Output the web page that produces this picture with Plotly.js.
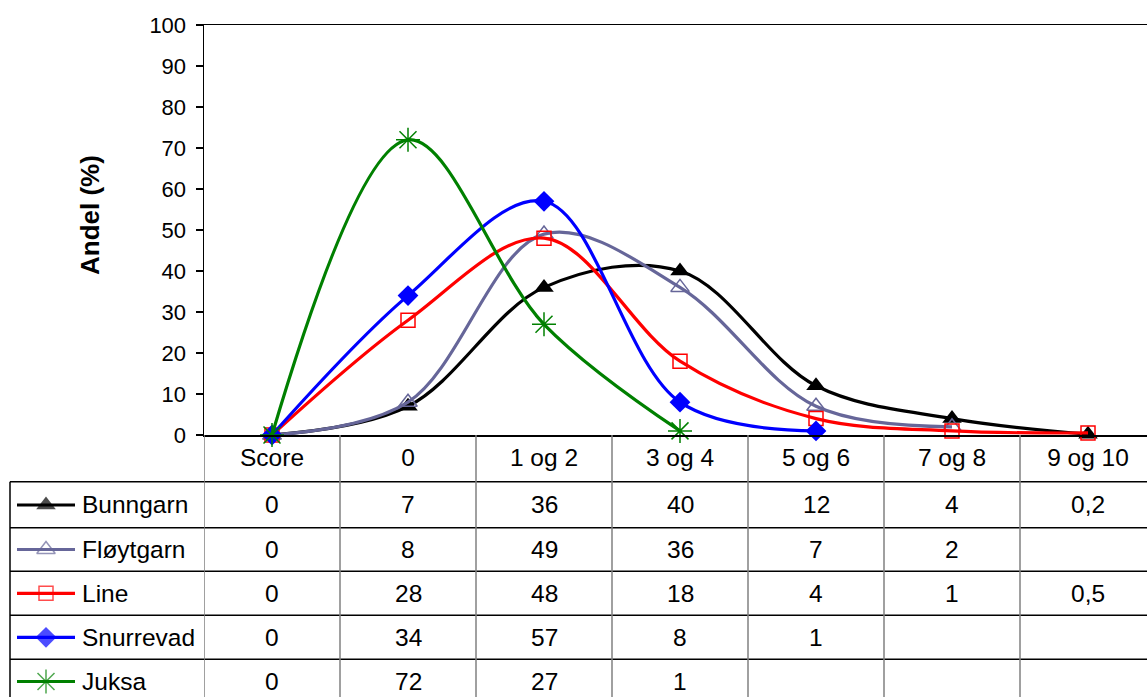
<!DOCTYPE html>
<html>
<head>
<meta charset="utf-8">
<script src="https://cdn.plot.ly/plotly-3.0.1.min.js"></script>
<style>
  html, body { margin: 0; padding: 0; overflow: hidden; background: #fff; }
  #chart { width: 1160px; height: 697px; }
</style>
</head>
<body>
<div id="chart"></div>
<script>
// Score classes (x categories) and share per gear type (%)
const categories = ['Score', '0', '1 og 2', '3 og 4', '5 og 6', '7 og 8', '9 og 10'];
const seriesNames = ['Bunngarn', 'Fløytgarn', 'Line', 'Snurrevad', 'Juksa'];
const bunngarn  = [0, 7, 36, 40, 12, 4, 0.2];
const floytgarn = [0, 8, 49, 36, 7, 2, null];
const line      = [0, 28, 48, 18, 4, 1, 0.5];
const snurrevad = [0, 34, 57, 8, 1, null, null];
const juksa     = [0, 72, 27, 1, null, null, null];
const yTickValues = [0, 10, 20, 30, 40, 50, 60, 70, 80, 90, 100];
const yTitle = 'Andel (%)';

const seriesValues = [bunngarn, floytgarn, line, snurrevad, juksa];

// Per-series look
const styles = [
  { color: '#000000', symbol: 'triangle-up',      size: 17, lw: 0 },
  { color: '#666699', symbol: 'triangle-up-open', size: 16, lw: 1.5 },
  { color: '#FF0000', symbol: 'square-open',      size: 14, lw: 1.5 },
  { color: '#0000FF', symbol: 'diamond',          size: 16, lw: 0 },
  { color: '#008000', symbol: 'asterisk-open',    size: 20, lw: 1.5 }
];

// Page geometry (pixels)
const W = 1160, H = 697;
const plotLeft = 204, plotRight = 1156, plotTop = 25, plotBottom = 435;
const px = v => v / W;
const py = v => 1 - v / H;

const FONT = 'Liberation Sans, Arial, sans-serif';
const tableFont = { family: FONT, size: 24.5, color: '#000' };

// Table rows: horizontal rules and row centres
const rowLines = [481.7, 527.7, 571.3, 615.3, 659.3, 703];
const rowCenters = [505, 549.5, 593.3, 637.3, 681.5];

const traces = [];

// Main curves
seriesValues.forEach((vals, i) => {
  const s = styles[i];
  traces.push({
    type: 'scatter',
    mode: 'lines+markers',
    name: seriesNames[i],
    x: categories,
    y: vals,
    xaxis: 'x', yaxis: 'y',
    cliponaxis: false,
    line: { color: s.color, width: 3.2, shape: 'spline', smoothing: 1 },
    marker: { symbol: s.symbol, size: s.size, color: s.color,
              line: { color: s.color, width: s.lw } },
    hoverinfo: 'x+y+name'
  });
});

// Legend keys inside the table's first column (pixel overlay axes)
seriesNames.forEach((name, i) => {
  const s = styles[i];
  const cy = rowCenters[i];
  traces.push({
    type: 'scatter',
    mode: 'lines+markers',
    x: [17, 46, 75],
    y: [cy, cy, cy],
    xaxis: 'x2', yaxis: 'y2',
    cliponaxis: false,
    hoverinfo: 'skip',
    line: { color: s.color, width: 3.2 },
    marker: { symbol: s.symbol, size: [0, s.size, 0], color: s.color,
              line: { color: s.color, width: s.lw } }
  });
});

const shapes = [];
// Horizontal table rules
rowLines.forEach(y => {
  shapes.push({ type: 'line', xref: 'paper', yref: 'paper',
    x0: px(10), x1: 1, y0: py(y), y1: py(y),
    line: { color: '#000', width: 1.5 } });
});
// Left border of the legend column
shapes.push({ type: 'line', xref: 'paper', yref: 'paper',
  x0: px(10), x1: px(10), y0: py(rowLines[0]), y1: 0,
  line: { color: '#000', width: 1.5 } });
// Column separators at category boundaries
for (let i = 0; i <= categories.length; i++) {
  shapes.push({ type: 'line', xref: 'x', yref: 'paper',
    x0: i - 0.5, x1: i - 0.5, y0: py(plotBottom), y1: 0,
    line: { color: '#808080', width: 1.5 } });
}

const annotations = [];
// Table cells (x given as category index)
seriesValues.forEach((vals, r) => {
  annotations.push({ xref: 'paper', yref: 'paper', x: px(80), y: py(rowCenters[r]),
    xanchor: 'left', yanchor: 'middle', showarrow: false,
    text: seriesNames[r], font: tableFont });
  vals.forEach((v, c) => {
    if (v === null) return;
    annotations.push({ xref: 'x', yref: 'paper', x: c, y: py(rowCenters[r]),
      xanchor: 'center', yanchor: 'middle', showarrow: false,
      text: String(v).replace('.', ','), font: tableFont });
  });
});
// Y title
annotations.push({ xref: 'paper', yref: 'paper', x: px(90), y: py(215),
  xanchor: 'center', yanchor: 'middle', showarrow: false, textangle: -90,
  text: '<b>' + yTitle + '</b>', font: { family: FONT, size: 26, color: '#000' } });

const layout = {
  width: W, height: H,
  margin: { l: 0, r: 0, t: 0, b: 0, pad: 0 },
  paper_bgcolor: '#fff',
  plot_bgcolor: 'rgba(0,0,0,0)',
  showlegend: false,
  xaxis: {
    domain: [px(plotLeft), px(plotRight)],
    type: 'category', categoryorder: 'array', categoryarray: categories,
    range: [-0.5, categories.length - 0.5],
    showgrid: false, zeroline: false,
    showline: true, linecolor: '#000', linewidth: 1.5, mirror: true,
    ticks: '', showticklabels: true, ticklabelstandoff: 0,
    tickfont: tableFont, fixedrange: true
  },
  yaxis: {
    domain: [py(plotBottom), py(plotTop)],
    range: [0, 100], tickvals: yTickValues,
    showgrid: false, zeroline: false,
    showline: true, linecolor: '#000', linewidth: 1.5, mirror: true,
    ticks: 'outside', ticklen: 7, tickwidth: 1.5, tickcolor: '#000',
    ticklabelstandoff: 5,
    tickfont: { family: FONT, size: 22, color: '#000' }, fixedrange: true
  },
  xaxis2: { domain: [0, 1], range: [0, W], visible: false, fixedrange: true, anchor: 'y2' },
  yaxis2: { domain: [0, 1], range: [H, 0], visible: false, fixedrange: true, anchor: 'x2' },
  shapes: shapes,
  annotations: annotations
};

Plotly.newPlot('chart', traces, layout, { displayModeBar: false, staticPlot: true });
</script>
</body>
</html>
